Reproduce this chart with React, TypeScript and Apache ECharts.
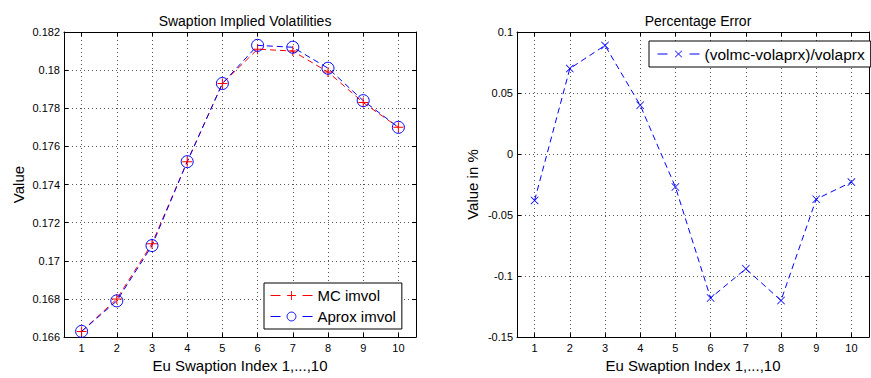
import React, { useEffect, useRef } from 'react';
import * as echarts from 'echarts';

const categories = ['1', '2', '3', '4', '5', '6', '7', '8', '9', '10'];
const mcImvol = [0.1663, 0.1680, 0.1709, 0.1752, 0.1793, 0.1811, 0.1810, 0.1799, 0.1783, 0.1770];
const aproxImvol = [0.1663, 0.1679, 0.1708, 0.1752, 0.1793, 0.1813, 0.1812, 0.1801, 0.1784, 0.1770];
const pctError = [-0.038, 0.070, 0.089, 0.040, -0.027, -0.118, -0.094, -0.120, -0.037, -0.023];

const leftTitle = 'Swaption Implied Volatilities';
const rightTitle = 'Percentage Error';
const xName = 'Eu Swaption Index 1,...,10';
const leftYName = 'Value';
const rightYName = 'Value in %';
const mcName = 'MC imvol';
const aproxName = 'Aprox imvol';
const errName = '(volmc-volaprx)/volaprx';

const FONT = "'Liberation Sans', Arial, Helvetica, sans-serif";
const PLUS = 'path://M0,4.5H10V5.5H0ZM4.5,0H5.5V10H4.5Z';
const CROSS = 'path://M0,0.7L0.7,0L5,4.3L9.3,0L10,0.7L5.7,5L10,9.3L9.3,10L5,5.7L0.7,10L0,9.3L4.3,5Z';
const RED = '#ff0000';
const BLUE = '#0000ff';

const black = { lineStyle: { color: '#000', width: 1 } };
const gridLine = { show: true, interval: 0, alignWithLabel: true, lineStyle: { color: '#555', width: 1, type: [1, 3] } };

function xAxes(gridIndex: number) {
  return [
    {
      type: 'category', gridIndex, data: categories, position: 'bottom', boundaryGap: true,
      axisLine: { show: true, onZero: false, ...black },
      axisTick: { show: true, inside: true, length: 4, interval: 0, alignWithLabel: true, ...black },
      axisLabel: { show: true, interval: 0, fontSize: 11, color: '#000', margin: 5, fontFamily: FONT },
      splitLine: gridLine,
      name: xName, nameLocation: 'middle', nameGap: 19,
      nameTextStyle: { fontSize: 15, color: '#000', fontFamily: FONT },
    },
    {
      type: 'category', gridIndex, data: categories, position: 'top', boundaryGap: true,
      axisLine: { show: true, onZero: false, ...black },
      axisTick: { show: true, inside: true, length: 4, interval: 0, alignWithLabel: true, ...black },
      axisLabel: { show: false },
      splitLine: { show: false },
    },
  ];
}

function yAxes(gridIndex: number, min: number, max: number, interval: number, name: string, gap: number) {
  return [
    {
      type: 'value', gridIndex, min, max, interval, position: 'left',
      axisLine: { show: true, onZero: false, ...black },
      axisTick: { show: true, inside: true, length: 4, ...black },
      axisLabel: { show: true, fontSize: 11, color: '#000', margin: 4, fontFamily: FONT },
      splitLine: { show: true, lineStyle: { color: '#555', width: 1, type: [1, 3] } },
      name, nameLocation: 'middle', nameGap: gap,
      nameTextStyle: { fontSize: 15, color: '#000', fontFamily: FONT },
    },
    {
      type: 'value', gridIndex, min, max, interval, position: 'right',
      axisLine: { show: true, onZero: false, ...black },
      axisTick: { show: true, inside: true, length: 4, ...black },
      axisLabel: { show: false },
      splitLine: { show: false },
    },
  ];
}

const legendLine = { width: 1, type: [10, 22] };

export default function App() {
  const ref = useRef<HTMLDivElement>(null);
  useEffect(() => {
    const chart = echarts.init(ref.current!, null, { renderer: 'svg' });
    const option: any = {
      animation: false,
      backgroundColor: '#fff',
      textStyle: { fontFamily: FONT },
      title: [
        { text: leftTitle, left: 240, top: 9, textAlign: 'center', textStyle: { fontSize: 14, fontWeight: 'normal', color: '#000', fontFamily: FONT } },
        { text: rightTitle, left: 693, top: 9, textAlign: 'center', textStyle: { fontSize: 14, fontWeight: 'normal', color: '#000', fontFamily: FONT } },
      ],
      grid: [
        { left: 64, right: 455, top: 32, bottom: 38, containLabel: false },
        { left: 517, right: 2, top: 32, bottom: 38, containLabel: false },
      ],
      xAxis: [...xAxes(0), ...xAxes(1)],
      yAxis: [
        ...yAxes(0, 0.166, 0.182, 0.002, leftYName, 38),
        ...yAxes(1, -0.15, 0.1, 0.05, rightYName, 37),
      ],
      legend: [
        {
          data: [
            { name: mcName, itemStyle: { color: RED, borderWidth: 0 }, lineStyle: { color: RED, width: 1, type: [10, 22] } },
            { name: aproxName, itemStyle: { color: 'rgba(0,0,0,0)', borderWidth: 1, borderColor: BLUE }, lineStyle: { color: BLUE, width: 1, type: [10, 22] } },
          ],
          orient: 'vertical', left: 264, top: 283,
          padding: [5, 6, 5, 6], itemGap: 6, itemWidth: 42, itemHeight: 11,
          borderColor: '#000', borderWidth: 1, borderRadius: 0, backgroundColor: '#fff',
          lineStyle: legendLine,
          textStyle: { fontSize: 15, color: '#000', fontFamily: FONT },
        },
        {
          data: [{ name: errName, itemStyle: { color: BLUE, borderWidth: 0 }, lineStyle: { color: BLUE, width: 1, type: [10, 22] } }],
          orient: 'vertical', left: 649, top: 41,
          padding: [5, 6, 5, 8], itemWidth: 42, itemHeight: 9,
          borderColor: '#000', borderWidth: 1, borderRadius: 0, backgroundColor: '#fff',
          lineStyle: legendLine,
          textStyle: { fontSize: 15.5, color: '#000', fontFamily: FONT },
        },
      ],
      series: [
        {
          name: mcName, type: 'line', xAxisIndex: 0, yAxisIndex: 0, data: mcImvol,
          symbol: PLUS, symbolSize: 10,
          lineStyle: { color: RED, width: 1, type: [6, 4] },
          itemStyle: { color: RED, borderColor: RED, borderWidth: 0 },
        },
        {
          name: aproxName, type: 'line', xAxisIndex: 0, yAxisIndex: 0, data: aproxImvol,
          symbol: 'circle', symbolSize: 12,
          lineStyle: { color: BLUE, width: 1, type: [6, 4] },
          itemStyle: { color: 'rgba(0,0,0,0)', borderColor: BLUE, borderWidth: 1 },
        },
        {
          name: errName, type: 'line', xAxisIndex: 2, yAxisIndex: 2, data: pctError,
          symbol: CROSS, symbolSize: 8,
          lineStyle: { color: BLUE, width: 1, type: [6, 4] },
          itemStyle: { color: BLUE, borderColor: BLUE, borderWidth: 0 },
        },
      ],
    };
    chart.setOption(option);
    return () => chart.dispose();
  }, []);
  return <div ref={ref} style={{ position: 'absolute', left: 0, top: 0, width: 871, height: 378 }} />;
}
